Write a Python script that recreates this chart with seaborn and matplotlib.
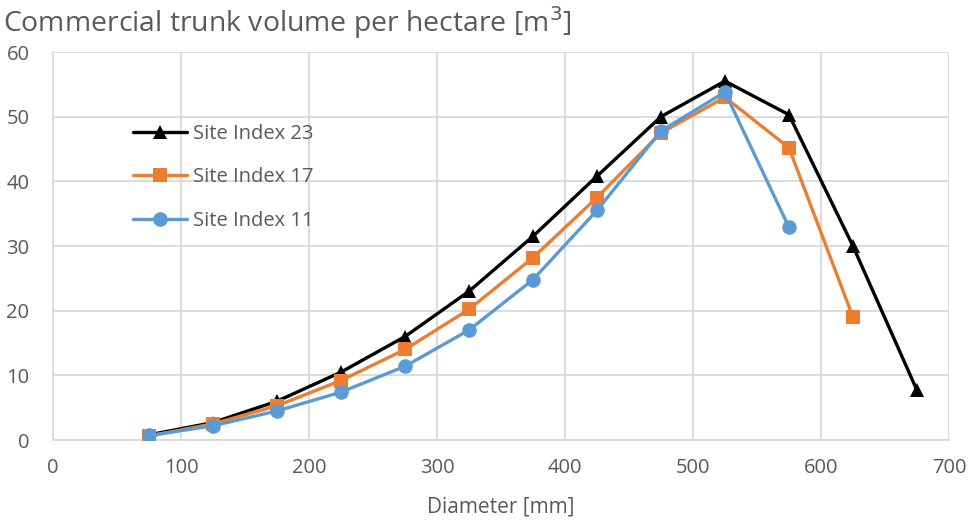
import matplotlib
matplotlib.use("Agg")
import matplotlib.pyplot as plt
import seaborn as sns
import pandas as pd

# Diameter classes (mm) and commercial trunk volume per hectare (m3)
diam_23 = [75, 125, 175, 225, 275, 325, 375, 425, 475, 525, 575, 625, 675]
vol_23 = [0.8, 2.7, 6.0, 10.5, 16.0, 23.0, 31.5, 40.8, 50.0, 55.5, 50.3, 30.0, 7.7]

diam_17 = [75, 125, 175, 225, 275, 325, 375, 425, 475, 525, 575, 625]
vol_17 = [0.6, 2.5, 5.3, 9.2, 14.0, 20.2, 28.2, 37.5, 47.5, 53.0, 45.2, 19.0]

diam_11 = [75, 125, 175, 225, 275, 325, 375, 425, 475, 525, 575]
vol_11 = [0.7, 2.2, 4.5, 7.4, 11.4, 17.0, 24.8, 35.5, 47.8, 53.8, 32.9]

series_names = ["Site Index 23", "Site Index 17", "Site Index 11"]
colors = ["#000000", "#ED7D31", "#5B9BD5"]
markers = ["^", "s", "o"]

x_ticks = [0, 100, 200, 300, 400, 500, 600, 700]
y_ticks = [0, 10, 20, 30, 40, 50, 60]

frames = []
for name, d, v in zip(series_names, [diam_23, diam_17, diam_11], [vol_23, vol_17, vol_11]):
    frames.append(pd.DataFrame({"Diameter": d, "Volume": v, "Series": name}))
df = pd.concat(frames, ignore_index=True)

sns.set_theme(style="white")
plt.rcParams["font.family"] = ["Open Sans", "DejaVu Sans"]
text_color = "#595959"

fig = plt.figure(figsize=(9.68, 5.2), dpi=100)
ax = fig.add_axes([0.0548, 0.1538, 0.9255, 0.7462])

for name, col, mk in zip(series_names, colors, markers):
    sub = df[df["Series"] == name]
    sns.lineplot(data=sub, x="Diameter", y="Volume", ax=ax, color=col,
                 marker=mk, markersize=10.5, markeredgewidth=0, linewidth=2.4,
                 label=name, zorder=3)

ax.set_xlim(0, 700)
ax.set_ylim(0, 60)
ax.set_xticks(x_ticks)
ax.set_yticks(y_ticks)
ax.grid(True, color="#D9D9D9", linewidth=1.3, zorder=0)
ax.set_axisbelow(True)
for side in ["top", "right"]:
    ax.spines[side].set_visible(False)
for side in ["left", "bottom"]:
    ax.spines[side].set_color("#D9D9D9")
    ax.spines[side].set_linewidth(1.3)
ax.tick_params(axis="both", length=0, labelsize=14.5, colors=text_color)
ax.tick_params(axis="x", pad=13)
ax.tick_params(axis="y", pad=17)
ax.set_xlabel("Diameter [mm]", fontsize=15, color=text_color, labelpad=13)
ax.set_ylabel("")

fig.text(0.003, 0.992, "Commercial trunk volume per hectare [m$^3$]",
         fontsize=20.4, color=text_color, ha="left", va="top")

leg = ax.legend(loc="upper left", bbox_to_anchor=(0.069, 0.862), frameon=False,
                fontsize=14.5, handlelength=2.7, handletextpad=0.3,
                labelspacing=1.17, labelcolor=text_color)

fig.savefig("out.png", dpi=100, facecolor="white")
